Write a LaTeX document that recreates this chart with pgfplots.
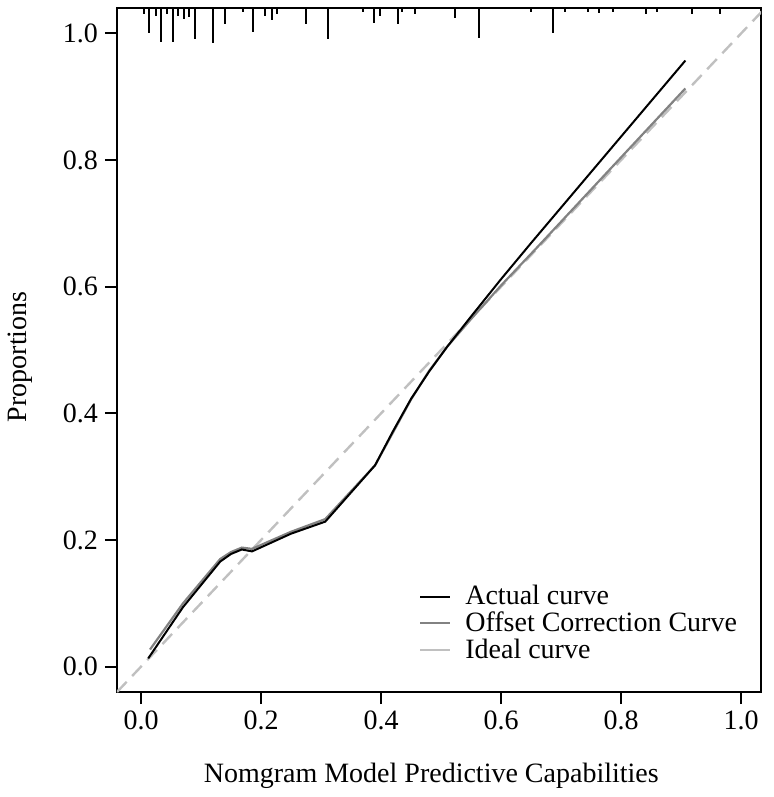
\documentclass[border=0pt]{standalone}
\usepackage{fontspec}
\setmainfont{Liberation Serif}
\usepackage{pgfplots}
\pgfplotsset{compat=1.18}

\definecolor{offsetgray}{RGB}{130,130,130}
\definecolor{idealgray}{RGB}{192,192,192}

\begin{document}
\begin{tikzpicture}
\begin{axis}[
  scale only axis,
  width=322pt, height=342pt,
  xmin=-0.04, xmax=1.033,
  ymin=-0.04, ymax=1.04,
  axis line style={line width=1pt},
  every tick/.style={black, line width=1pt},
  major tick length=6pt,
  tick align=outside,
  xtick pos=lower, ytick pos=left,
  xtick={0,0.2,...,1.0}, ytick={0,0.2,...,1.0},
  xticklabel style={/pgf/number format/.cd, fixed, fixed zerofill, precision=1},
  yticklabel style={/pgf/number format/.cd, fixed, fixed zerofill, precision=1},
  /pgf/number format/assume math mode=true,
  tick label style={font=\fontsize{14}{16}\selectfont},
  xlabel={Nomgram Model Predictive Capabilities},
  ylabel={Proportions},
  label style={font=\fontsize{14}{16}\selectfont},
  xlabel style={at={(axis description cs:0.488,-0.122)}, anchor=center},
  ylabel style={at={(axis description cs:-0.151,0.49)}, anchor=center, rotate=0},
  legend style={draw=none, fill=none, at={(axis description cs:0.4595,0.165)}, anchor=north west,
    font=\fontsize{14}{16}\selectfont, nodes={inner sep=1pt}, row sep=0pt},
  legend cell align=left,
  legend image code/.code={\draw[#1] (0pt,0pt) -- (15pt,0pt); \path (21pt,0pt);},
]
% ideal diagonal
\addplot[idealgray, line width=1.2pt, dash pattern=on 7pt off 4pt, forget plot] coordinates {(-0.04,-0.04) (1.04,1.04)};
% offset (bias) corrected curve
\addplot[offsetgray, line width=1.1pt, forget plot] coordinates {
  (0.015,0.027) (0.070,0.100) (0.132,0.170) (0.150,0.181) (0.168,0.188) (0.185,0.186)
  (0.250,0.213) (0.307,0.233) (0.390,0.318) (0.420,0.370) (0.450,0.422)
  (0.480,0.467) (0.510,0.505) (0.550,0.549) (0.600,0.602) (0.660,0.662) (0.907,0.913)};
% apparent (actual) curve
\addplot[black, line width=1pt, forget plot] coordinates {
  (0.012,0.013) (0.070,0.094) (0.132,0.166) (0.150,0.178) (0.168,0.185) (0.185,0.182)
  (0.250,0.210) (0.307,0.229) (0.390,0.318) (0.420,0.372) (0.450,0.423)
  (0.480,0.466) (0.510,0.505) (0.550,0.553) (0.600,0.612) (0.650,0.669) (0.907,0.957)};
% rug of predicted probabilities along the top
\addplot[draw=none, mark=none, forget plot,
  error bars/.cd, y dir=minus, y explicit,
  error bar style={draw=black, solid, line width=1pt}, error mark=none] coordinates {
  (0.0055,1.04) -= (0,0.010)
  (0.013,1.04) -= (0,0.040)
  (0.0245,1.04) -= (0,0.013)
  (0.033,1.04) -= (0,0.054)
  (0.043,1.04) -= (0,0.010)
  (0.053,1.04) -= (0,0.054)
  (0.062,1.04) -= (0,0.013)
  (0.072,1.04) -= (0,0.017)
  (0.080,1.04) -= (0,0.014)
  (0.090,1.04) -= (0,0.049)
  (0.120,1.04) -= (0,0.055)
  (0.140,1.04) -= (0,0.025)
  (0.170,1.04) -= (0,0.006)
  (0.187,1.04) -= (0,0.038)
  (0.207,1.04) -= (0,0.013)
  (0.218,1.04) -= (0,0.019)
  (0.227,1.04) -= (0,0.010)
  (0.275,1.04) -= (0,0.025)
  (0.312,1.04) -= (0,0.049)
  (0.370,1.04) -= (0,0.006)
  (0.388,1.04) -= (0,0.024)
  (0.398,1.04) -= (0,0.013)
  (0.428,1.04) -= (0,0.025)
  (0.435,1.04) -= (0,0.006)
  (0.457,1.04) -= (0,0.010)
  (0.523,1.04) -= (0,0.016)
  (0.563,1.04) -= (0,0.047)
  (0.650,1.04) -= (0,0.006)
  (0.687,1.04) -= (0,0.040)
  (0.707,1.04) -= (0,0.006)
  (0.745,1.04) -= (0,0.006)
  (0.763,1.04) -= (0,0.008)
  (0.787,1.04) -= (0,0.006)
  (0.842,1.04) -= (0,0.010)
  (0.860,1.04) -= (0,0.006)
  (0.918,1.04) -= (0,0.010)
  (0.965,1.04) -= (0,0.010)
};
\addlegendimage{black, line width=1pt}
\addlegendentry{Actual curve}
\addlegendimage{offsetgray, line width=1pt}
\addlegendentry{Offset Correction Curve}
\addlegendimage{idealgray, line width=1pt}
\addlegendentry{Ideal curve}
\end{axis}
\pgfresetboundingbox
\path[use as bounding box] ([shift={(-58.5pt,-52.5pt)}]current axis.south west) rectangle ([shift={(6pt,4pt)}]current axis.north east);
\end{tikzpicture}
\end{document}
